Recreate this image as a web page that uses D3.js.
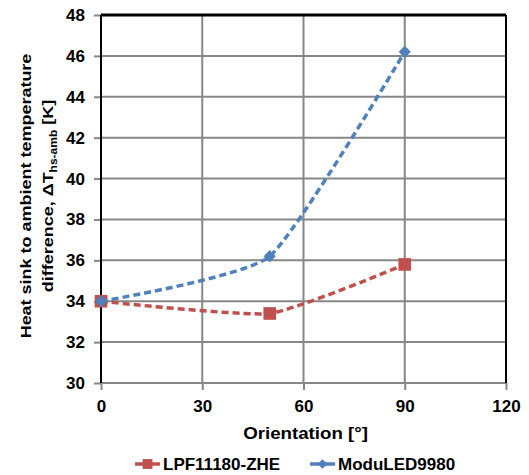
<!DOCTYPE html>
<html>
<head>
<meta charset="UTF-8">
<script src="https://d3js.org/d3.v7.min.js"></script>
<style>
    body { margin: 0; background: #fff; }
    text { font-family: "Liberation Sans", Arial, sans-serif; font-weight: bold; fill: #000; }
</style>
</head>
<body>
<svg></svg>
<script>
    // data
    let orientation = [0, 50, 90];
    let lpfValues = [34.0, 33.4, 35.8];
    let moduValues = [34.0, 36.2, 46.2];
    let seriesNames = ["LPF11180-ZHE", "ModuLED9980"];
    let xTicks = [0, 30, 60, 90, 120];
    let yTicks = [30, 32, 34, 36, 38, 40, 42, 44, 46, 48];

    let width = 529, height = 475;
    let margin = { left: 101, right: 23, top: 15, bottom: 92 };

    let svg = d3.select("svg")
        .attr("width", width)
        .attr("height", height);

    let x = d3.scaleLinear().domain([0, 120]).range([margin.left, width - margin.right]);
    let y = d3.scaleLinear().domain([30, 48]).range([height - margin.bottom, margin.top]);

    let gridColor = "#878787";

    // grid lines
    svg.append("g")
        .selectAll("line")
        .data(yTicks.slice(1, -1))
        .enter().append("line")
        .attr("x1", x(0)).attr("x2", x(120))
        .attr("y1", d => y(d)).attr("y2", d => y(d))
        .attr("stroke", gridColor).attr("stroke-width", 2);

    svg.append("g")
        .selectAll("line")
        .data(xTicks.slice(1, -1))
        .enter().append("line")
        .attr("y1", y(30)).attr("y2", y(48))
        .attr("x1", d => x(d)).attr("x2", d => x(d))
        .attr("stroke", gridColor).attr("stroke-width", 2);

    // axes
    let yAxis = svg.append("g")
        .attr("transform", "translate(" + x(0) + ",0)")
        .call(d3.axisLeft(y).tickValues(yTicks).tickSize(7).tickPadding(9));
    let xAxis = svg.append("g")
        .attr("transform", "translate(0," + y(30) + ")")
        .call(d3.axisBottom(x).tickValues(xTicks).tickSize(7).tickPadding(10));

    [yAxis, xAxis].forEach(a => {
        a.select(".domain").remove();
        a.selectAll(".tick line").attr("stroke", gridColor).attr("stroke-width", 2);
        a.selectAll(".tick text")
            .attr("font-size", "17px")
            .attr("font-family", "Liberation Sans, Arial, sans-serif")
            .attr("font-weight", "bold")
            .attr("fill", "#000");
    });

    // plot frame
    svg.append("line").attr("x1", x(0)).attr("x2", x(120)).attr("y1", y(30)).attr("y2", y(30))
        .attr("stroke", gridColor).attr("stroke-width", 2);
    svg.append("line").attr("x1", x(0)).attr("x2", x(120)).attr("y1", y(48)).attr("y2", y(48))
        .attr("stroke", "#000").attr("stroke-width", 3);
    svg.append("line").attr("x1", x(0)).attr("x2", x(0)).attr("y1", y(30)).attr("y2", y(48))
        .attr("stroke", "#000").attr("stroke-width", 2);
    svg.append("line").attr("x1", x(120)).attr("x2", x(120)).attr("y1", y(30)).attr("y2", y(48))
        .attr("stroke", "#000").attr("stroke-width", 2);

    // series
    let series = [
        { name: seriesNames[0], values: lpfValues, color: "#C0504D", symbol: d3.symbolSquare, size: 160, rot: 0 },
        { name: seriesNames[1], values: moduValues, color: "#4F81BD", symbol: d3.symbolSquare, size: 75, rot: 45 }
    ];

    let line = d3.line()
        .x((d, i) => x(orientation[i]))
        .y(d => y(d))
        .curve(d3.curveCardinal.tension(0.5));

    series.forEach(s => {
        svg.append("path")
            .datum(s.values)
            .attr("d", line)
            .attr("fill", "none")
            .attr("stroke", s.color)
            .attr("stroke-width", 3.5)
            .attr("stroke-dasharray", "7,4");

        svg.append("g")
            .selectAll("path")
            .data(s.values)
            .enter().append("path")
            .attr("d", d3.symbol().type(s.symbol).size(s.size))
            .attr("transform", (d, i) => "translate(" + x(orientation[i]) + "," + y(d) + ") rotate(" + s.rot + ")")
            .attr("fill", s.color);
    });

    // axis titles
    svg.append("text")
        .attr("x", (x(0) + x(120)) / 2 + 2)
        .attr("y", 439)
        .attr("text-anchor", "middle")
        .attr("font-size", "17px")
        .attr("transform", "translate(" + (-0.1 * 305) + ",0) scale(1.1,1)")
        .text("Orientation [°]");

    let yTitle = svg.append("text")
        .attr("transform", "translate(26,196) rotate(-90) scale(1.2,1)")
        .attr("text-anchor", "middle")
        .attr("font-size", "15px");
    yTitle.append("tspan")
        .attr("x", 0).attr("y", 5)
        .text("Heat sink to ambient temperature");
    let t2 = yTitle.append("tspan").attr("x", 0).attr("y", 27);
    t2.append("tspan").text("difference, ΔT");
    t2.append("tspan").attr("font-size", "10px").attr("dy", 4).text("hs-amb");
    t2.append("tspan").attr("dy", -4).text(" [K]");

    // legend
    let legendX = [135, 310];
    series.forEach((s, i) => {
        let g = svg.append("g").attr("transform", "translate(" + legendX[i] + ",464)");
        g.append("line")
            .attr("x1", 0).attr("x2", 25)
            .attr("stroke", s.color).attr("stroke-width", 3.5);
        g.append("path")
            .attr("d", d3.symbol().type(s.symbol).size(s.size * 0.6))
            .attr("transform", "translate(12.5,0) rotate(" + s.rot + ")")
            .attr("fill", s.color);
        g.append("text")
            .attr("x", 28)
            .attr("y", 6)
            .attr("font-size", "17px")
            .text(s.name);
    });
</script>
</body>
</html>
